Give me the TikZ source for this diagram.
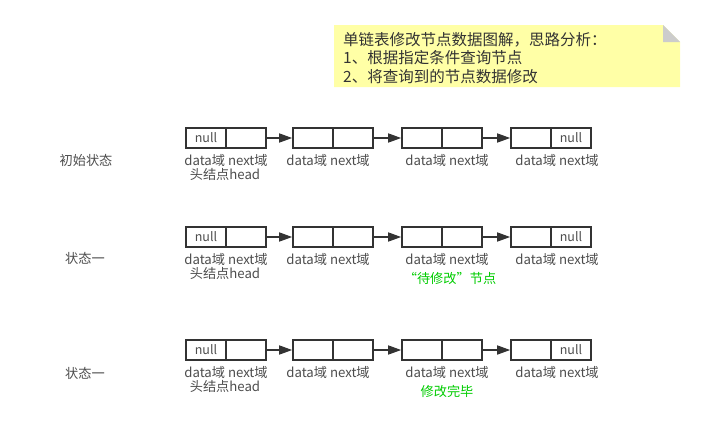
\documentclass[tikz,border=0pt]{standalone}
\usepackage{fontspec}
\setmainfont{Noto Sans CJK SC}
\usetikzlibrary{arrows.meta}
\definecolor{linegray}{HTML}{333333}
\definecolor{textgray}{HTML}{4D4D4D}
\definecolor{notefill}{HTML}{FFFFA6}
\definecolor{foldgray}{HTML}{CCCCCC}
\definecolor{hintgreen}{HTML}{00CC00}
\begin{document}
\begin{tikzpicture}[x=1pt,y=-1pt,
  cell/.style={draw=linegray,line width=1.6pt,minimum width=40pt,minimum height=20pt,inner sep=0pt,text=textgray,font=\fontsize{12.5}{13}\selectfont},
  lnk/.style={draw=linegray,line width=1.5pt,-{Triangle[length=13pt,width=9pt]}},
  lbl/.style={text=textgray,inner sep=0pt,font=\fontsize{13.2}{15}\selectfont},
  hint/.style={text=hintgreen,inner sep=0pt,font=\fontsize{13.2}{15}\selectfont}]
\useasboundingbox (0,0) rectangle (706,426);
\fill[notefill] (334,25)--(663,25)--(680,42)--(680,87)--(334,87)--cycle;
\fill[foldgray] (663,25)--(680,42)--(663,42)--cycle;
\node[text=linegray,inner sep=0pt,anchor=west,align=left,font=\fontsize{15.5}{18.5}\selectfont] (note) at (343,58)
  {单链表修改节点数据图解，思路分析：\\1、根据指定条件查询节点\\2、将查询到的节点数据修改};
\foreach \row/\y in {a/138,b/237,c/350}{
  \node[cell] (\row d1) at (206,\y) {null};
  \node[cell] (\row n1) at (246,\y) {};
  \node[cell] (\row d2) at (313,\y) {};
  \node[cell] (\row n2) at (353,\y) {};
  \node[cell] (\row d3) at (422,\y) {};
  \node[cell] (\row n3) at (462,\y) {};
  \node[cell] (\row d4) at (531,\y) {};
  \node[cell] (\row n4) at (571,\y) {null};
  \draw[lnk] (\row n1) -- (\row d2);
  \draw[lnk] (\row n2) -- (\row d3);
  \draw[lnk] (\row n3) -- (\row d4);
  \node[lbl] (\row t1) at (226,\y+22) {data域 next域};
  \node[lbl] (\row t2) at (328,\y+22) {data域 next域};
  \node[lbl] (\row t3) at (447,\y+22) {data域 next域};
  \node[lbl] (\row t4) at (557,\y+22) {data域 next域};
  \node[lbl] (\row h) at (225,\y+36) {头结点head};
}
\node[lbl] (s0) at (86,160) {初始状态};
\node[lbl] (s1) at (85,258) {状态一};
\node[lbl] (s2) at (85,373) {状态一};
\node[hint] (mark) at (450,278) {“待修改”节点};
\node[hint] (done) at (447,391) {修改完毕};
\end{tikzpicture}
\end{document}
